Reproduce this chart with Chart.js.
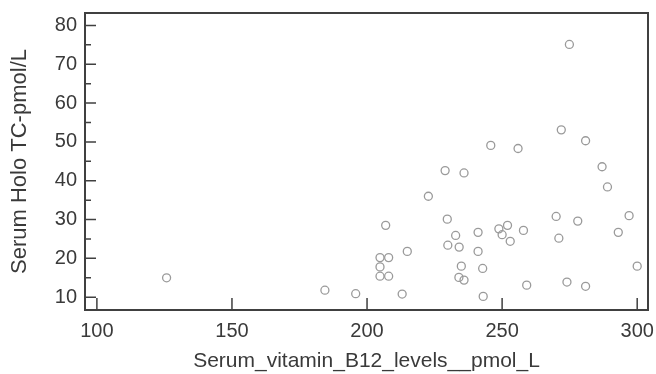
<!DOCTYPE html>
<html>
<head>
<meta charset="utf-8">
<script src="https://cdn.jsdelivr.net/npm/chart.js@4.4.0/dist/chart.umd.min.js"></script>
<style>
  html, body { margin: 0; padding: 0; background: #fff; }
  #wrap { width: 656px; height: 374px; }
</style>
</head>
<body>
<div id="wrap"><canvas id="chart" width="656" height="374"></canvas></div>
<script>
// Serum B12 (pmol/L) vs Holo TC (pmol/L)
const b12 = [125.8, 184.4, 195.8, 206.9, 204.8, 208.0, 204.8, 204.8, 208.0, 214.9,
             213.0, 222.7, 229.7, 229.9, 232.8, 234.1, 234.9, 234.0, 235.9, 241.1,
             241.1, 242.8, 243.0, 248.8, 250.0, 252.0, 253.0, 257.9, 259.1, 270.0,
             271.0, 274.0, 278.0, 280.9, 289.0, 293.0, 297.0, 300.0, 274.9, 271.9,
             280.9, 245.8, 255.9, 287.0, 228.9, 235.9];
const holoTC = [15.0, 11.8, 10.9, 28.5, 20.2, 20.2, 17.8, 15.4, 15.4, 21.8,
                10.8, 36.0, 30.1, 23.4, 25.9, 22.9, 18.0, 15.1, 14.4, 26.7,
                21.8, 17.4, 10.2, 27.6, 26.1, 28.5, 24.4, 27.2, 13.1, 30.8,
                25.2, 13.9, 29.6, 12.8, 38.4, 26.7, 31.0, 18.0, 75.1, 53.1,
                50.3, 49.1, 48.3, 43.6, 42.6, 42.0];

const xTicks = [100, 150, 200, 250, 300];
const yTicks = [10, 20, 30, 40, 50, 60, 70, 80];
const yMinorTicks = [15, 25, 35, 45, 55, 65, 75];

const textColor = '#3a3a3a';
const lineColor = '#404040';
const font = 'Liberation Sans, Arial, sans-serif';

// frame + inward tick marks
const framePlugin = {
  id: 'frame',
  afterDraw(chart) {
    const { ctx, chartArea: a, scales } = chart;
    ctx.save();
    ctx.strokeStyle = lineColor;
    ctx.lineWidth = 2;
    ctx.strokeRect(a.left, a.top, a.right - a.left, a.bottom - a.top);

    ctx.lineWidth = 1.5;
    ctx.beginPath();
    yTicks.forEach(v => {
      const y = scales.y.getPixelForValue(v);
      ctx.moveTo(a.left, y);
      ctx.lineTo(a.left + 11, y);
    });
    yMinorTicks.forEach(v => {
      const y = scales.y.getPixelForValue(v);
      ctx.moveTo(a.left, y);
      ctx.lineTo(a.left + 6, y);
    });
    xTicks.forEach(v => {
      const x = scales.x.getPixelForValue(v);
      ctx.moveTo(x, a.bottom);
      ctx.lineTo(x, a.bottom - 12);
    });
    ctx.stroke();
    ctx.restore();
  }
};

new Chart(document.getElementById('chart').getContext('2d'), {
  type: 'scatter',
  data: {
    datasets: [{
      data: b12.map((x, i) => ({ x: x, y: holoTC[i] })),
      pointStyle: 'circle',
      pointRadius: 4,
      borderColor: '#9a9a9a',
      borderWidth: 1.3,
      backgroundColor: 'rgba(0,0,0,0)'
    }]
  },
  options: {
    responsive: false,
    animation: false,
    layout: { padding: { top: 13, right: 8, left: 0, bottom: 0 } },
    plugins: {
      legend: { display: false },
      tooltip: { enabled: false }
    },
    scales: {
      x: {
        type: 'linear',
        min: 95.6,
        max: 304,
        afterBuildTicks: s => { s.ticks = xTicks.map(v => ({ value: v })); },
        afterFit: s => { s.height = 64; s.paddingRight = 0; s.paddingLeft = 0; },
        grid: { display: false, drawTicks: false },
        border: { display: false },
        ticks: {
          padding: 9,
          color: textColor,
          font: { family: font, size: 20 }
        },
        title: {
          display: true,
          text: 'Serum_vitamin_B12_levels__pmol_L',
          color: textColor,
          padding: { top: -3, bottom: 0 },
          font: { family: font, size: 21 }
        }
      },
      y: {
        type: 'linear',
        min: 6.7,
        max: 83.2,
        afterBuildTicks: s => { s.ticks = yTicks.map(v => ({ value: v })); },
        afterFit: s => { s.width = 85; s.paddingTop = 0; s.paddingBottom = 0; },
        grid: { display: false, drawTicks: false },
        border: { display: false },
        ticks: {
          padding: 8,
          color: textColor,
          font: { family: font, size: 20 }
        },
        title: {
          display: true,
          text: 'Serum Holo TC-pmol/L',
          color: textColor,
          padding: { top: 7, bottom: 0 },
          font: { family: font, size: 22 }
        }
      }
    }
  },
  plugins: [framePlugin]
});
</script>
</body>
</html>
